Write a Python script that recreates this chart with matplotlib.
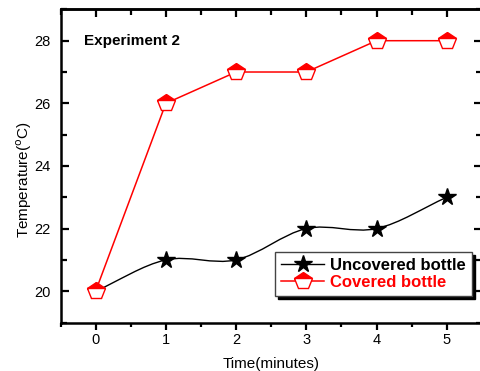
import numpy as np
import matplotlib
matplotlib.use('Agg')
import matplotlib.pyplot as plt
from matplotlib.path import Path
from matplotlib.patches import PathPatch
from matplotlib.lines import Line2D
from matplotlib.ticker import MultipleLocator

plt.rcParams['font.family'] = ['Liberation Sans', 'DejaVu Sans']

time_min = [0, 1, 2, 3, 4, 5]
uncovered = [20, 21, 21, 22, 22, 23]
covered = [20, 26, 27, 27, 28, 28]
labels = ['Uncovered bottle', 'Covered bottle']

fig = plt.figure(figsize=(4.81, 3.71), dpi=100)
ax = fig.add_axes([0.1258, 0.1307, 0.876, 0.844])

# smooth curve for the uncovered series (Catmull-Rom -> cubic bezier)
xs = np.array(time_min, dtype=float)
ys = np.array(uncovered, dtype=float)
n = len(xs)
slopes = np.zeros(n)
for i in range(n):
    if i == 0:
        slopes[i] = (ys[1] - ys[0]) / (xs[1] - xs[0])
    elif i == n - 1:
        slopes[i] = (ys[-1] - ys[-2]) / (xs[-1] - xs[-2])
    else:
        slopes[i] = (ys[i + 1] - ys[i - 1]) / (xs[i + 1] - xs[i - 1])
verts = [(xs[0], ys[0])]
codes = [Path.MOVETO]
for i in range(n - 1):
    h = xs[i + 1] - xs[i]
    verts += [(xs[i] + h / 3, ys[i] + slopes[i] * h / 3),
              (xs[i + 1] - h / 3, ys[i + 1] - slopes[i + 1] * h / 3),
              (xs[i + 1], ys[i + 1])]
    codes += [Path.CURVE4] * 3
ax.add_patch(PathPatch(Path(verts, codes), facecolor='none',
                       edgecolor='black', lw=1.0, zorder=2))
ax.plot(time_min, uncovered, linestyle='none', marker='*', ms=13,
        color='black', zorder=3)

ax.plot(time_min, covered, color='red', lw=1.1, marker='p', ms=13,
        fillstyle='top', markerfacecolor='red', markerfacecoloralt='white',
        markeredgecolor='red', markeredgewidth=1.0, zorder=4)

ax.set_xlim(-0.5, 5.5)
ax.set_ylim(19, 29)
ax.xaxis.set_major_locator(MultipleLocator(1))
ax.xaxis.set_minor_locator(MultipleLocator(0.5))
ax.yaxis.set_minor_locator(MultipleLocator(1))
ax.set_yticks([20, 22, 24, 26, 28])

for sp in ax.spines.values():
    sp.set_linewidth(1.8)

ax.tick_params(axis='x', which='both', direction='out', top=False,
               labelsize=10.5, width=1.6, pad=2.5)
ax.tick_params(axis='x', which='major', length=5)
ax.tick_params(axis='x', which='minor', length=3)
ax.tick_params(axis='y', which='both', direction='in', right=True,
               labelsize=10.5, width=1.6, pad=7)
ax.tick_params(axis='y', which='major', length=6)
ax.tick_params(axis='y', which='minor', length=4)

# top ticks point inward
ax2 = ax.secondary_xaxis('top')
ax2.xaxis.set_major_locator(MultipleLocator(1))
ax2.xaxis.set_minor_locator(MultipleLocator(0.5))
ax2.tick_params(axis='x', which='both', direction='in', labeltop=False, width=1.6)
ax2.tick_params(axis='x', which='major', length=6)
ax2.tick_params(axis='x', which='minor', length=4)
ax2.spines['top'].set_linewidth(1.8)

ax.set_xlabel('Time(minutes)', fontsize=11, labelpad=7)
ax.set_ylabel('Temperature($^{\\rm o}$C)', fontsize=11)
ax.yaxis.set_label_coords(-0.064, 0.455)

ax.text(-0.16, 28, 'Experiment 2', fontsize=11, fontweight='bold',
        va='center', ha='left')

handles = [
    Line2D([], [], color='black', lw=1.0, marker='*', ms=13),
    Line2D([], [], color='red', lw=1.1, marker='p', ms=13, fillstyle='top',
           markerfacecolor='red', markerfacecoloralt='white',
           markeredgecolor='red'),
]
leg = ax.legend(handles, labels, loc='lower right',
                bbox_to_anchor=(0.976, 0.085), fancybox=False,
                shadow={'color': 'black', 'alpha': 1.0},
                edgecolor='#444444', framealpha=1,
                prop={'weight': 'bold', 'size': 12},
                handlelength=2.6, handletextpad=0.35, borderpad=0.35,
                labelspacing=0.12, borderaxespad=0)
leg.get_frame().set_linewidth(1.0)
leg.get_texts()[1].set_color('red')

fig.savefig('out.png', dpi=100)
